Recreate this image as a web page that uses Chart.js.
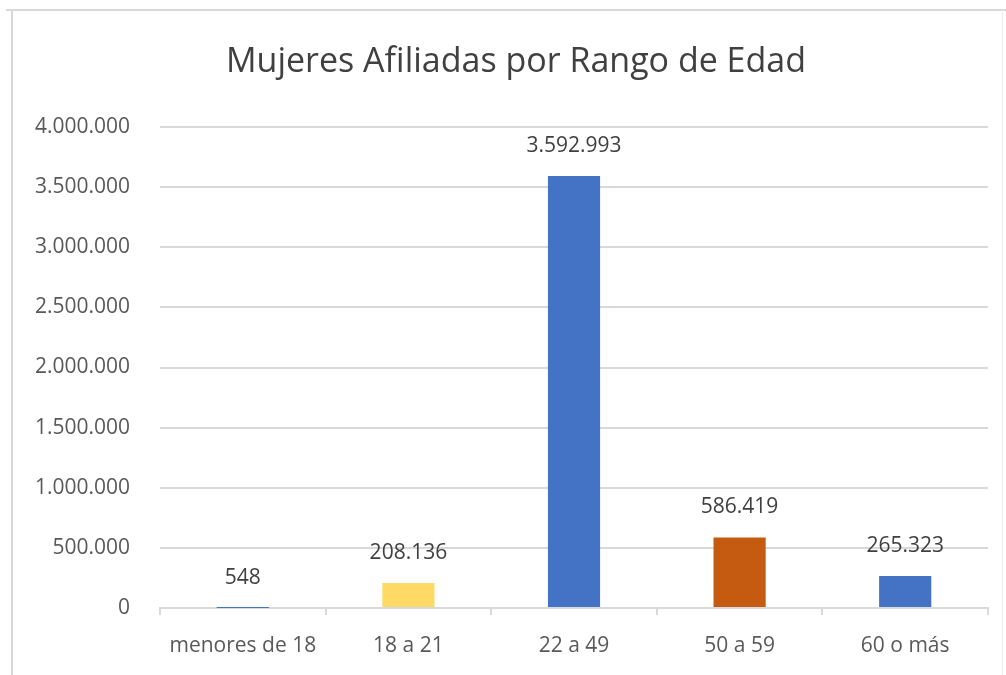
<!DOCTYPE html>
<html>
<head>
<meta charset="utf-8">
<script src="https://cdn.jsdelivr.net/npm/chart.js@4.4.1/dist/chart.umd.min.js"></script>
<style>
  html, body { margin: 0; padding: 0; background: #fff; }
  #wrap { width: 1006px; height: 675px; position: relative; }
</style>
</head>
<body>
<div id="wrap"><canvas id="c" width="1006" height="675"></canvas></div>
<script>
const TITLE = 'Mujeres Afiliadas por Rango de Edad';
const categories = ['menores de 18', '18 a 21', '22 a 49', '50 a 59', '60 o más'];
const values = [548, 208136, 3592993, 586419, 265323];
const barColors = ['#4472C4', '#FFD966', '#4472C4', '#C55A11', '#4472C4'];
const yMin = 0, yMax = 4000000, yStep = 500000;

const FONT = "'Open Sans', 'DejaVu Sans', sans-serif";
function fmt(v) { return String(Math.round(v)).replace(/\B(?=(\d{3})+(?!\d))/g, '.'); }

const decor = {
  id: 'decor',
  beforeDraw(chart) {
    const ctx = chart.ctx;
    ctx.save();
    ctx.fillStyle = '#fff';
    ctx.fillRect(0, 0, chart.width, chart.height);
    ctx.strokeStyle = '#d9d9d9';
    ctx.lineWidth = 2;
    ctx.beginPath();
    ctx.moveTo(6, 10); ctx.lineTo(1006, 10);
    ctx.moveTo(12, 10); ctx.lineTo(12, 675);
    ctx.stroke();
    ctx.strokeStyle = '#eeeeee';
    ctx.lineWidth = 1;
    ctx.beginPath();
    ctx.moveTo(1002.5, 10); ctx.lineTo(1002.5, 675);
    ctx.stroke();
    // title
    ctx.fillStyle = '#404040';
    ctx.font = "34px " + FONT;
    ctx.textAlign = 'center';
    ctx.textBaseline = 'middle';
    ctx.fillText(TITLE, 516, 62);
    ctx.restore();
  },
  afterDatasetsDraw(chart) {
    const ctx = chart.ctx;
    const meta = chart.getDatasetMeta(0);
    ctx.save();
    ctx.fillStyle = '#404040';
    ctx.font = "21px " + FONT;
    ctx.textAlign = 'center';
    ctx.textBaseline = 'middle';
    meta.data.forEach((bar, i) => {
      ctx.fillText(fmt(values[i]), bar.x, bar.y - 30);
    });
    ctx.restore();
  }
};

new Chart(document.getElementById('c'), {
  type: 'bar',
  data: {
    labels: categories,
    datasets: [{
      data: values,
      backgroundColor: barColors,
      borderWidth: 0,
      categoryPercentage: 1.0,
      barPercentage: 0.315
    }]
  },
  options: {
    responsive: false,
    animation: false,
    devicePixelRatio: 1,
    layout: { padding: { top: 127, right: 18, bottom: 0, left: 0 } },
    plugins: { legend: { display: false }, title: { display: false }, tooltip: { enabled: false } },
    scales: {
      y: {
        min: yMin, max: yMax,
        ticks: { stepSize: yStep, padding: 30, color: '#595959', font: { family: FONT, size: 21 }, callback: v => fmt(v) },
        grid: { color: '#d9d9d9', lineWidth: 2, drawTicks: false },
        border: { display: false },
        afterFit: s => { s.width = 160; }
      },
      x: {
        ticks: { padding: 18, color: '#595959', font: { family: FONT, size: 21 } },
        grid: { drawOnChartArea: false, drawTicks: true, tickLength: 7, color: '#d9d9d9', lineWidth: 2, offset: true },
        border: { color: '#d9d9d9', width: 2 },
        afterFit: s => { s.height = 67; }
      }
    }
  },
  plugins: [decor]
});
</script>
</body>
</html>
